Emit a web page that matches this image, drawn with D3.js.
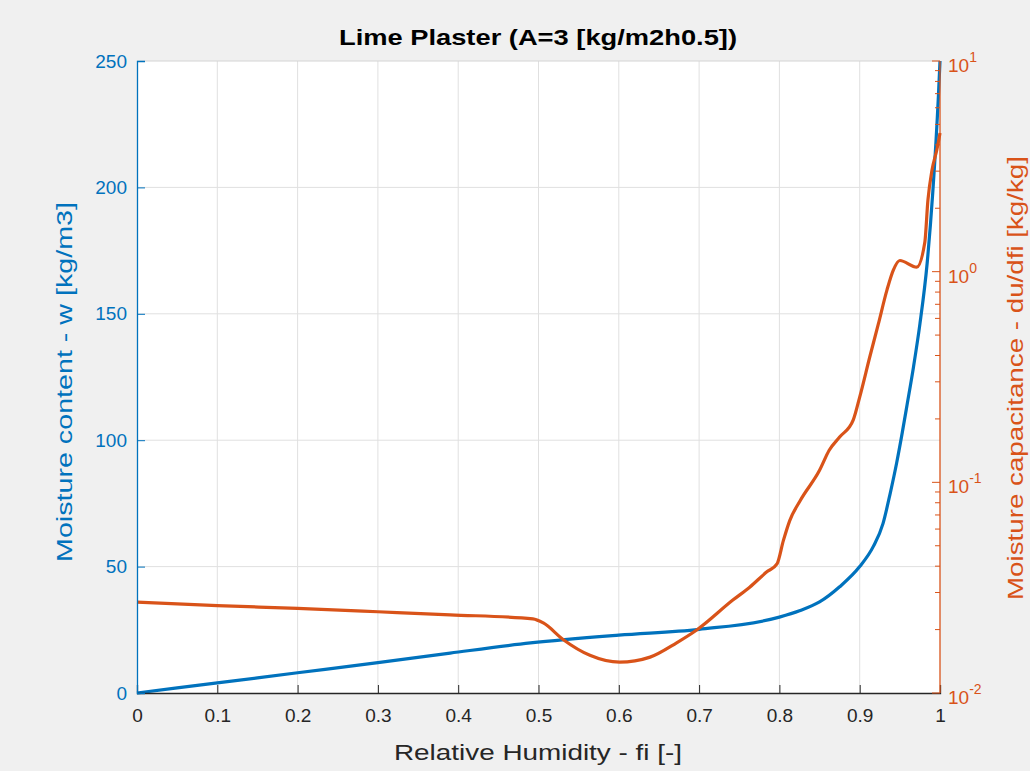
<!DOCTYPE html>
<html>
<head>
<meta charset="utf-8">
<script src="https://cdn.jsdelivr.net/npm/d3@7"></script>
<style>
  body { margin: 0; background: #f0f0f0; }
  svg { display: block; font-family: "Liberation Sans", Arial, sans-serif; }
</style>
</head>
<body>
<div id="chart"></div>
<script>
// moisture content w [kg/m3] vs relative humidity
const wFi = [0, 0.1, 0.2, 0.3, 0.39, 0.49, 0.6, 0.7, 0.8, 0.825, 0.85, 0.875, 0.9, 0.917, 0.929, 0.938, 0.946, 0.953, 0.959, 0.967, 0.975, 0.984, 0.991, 0.998, 1];
const wVal = [0, 4, 8, 12, 15.8, 19.8, 22.9, 25.2, 30, 32.5, 36, 42, 50, 58, 67, 79, 91, 103, 114, 129, 146, 170, 198, 236, 250];

// moisture capacitance du/dfi [kg/kg] (log axis)
const cFi = [0, 0.1, 0.2, 0.3, 0.39, 0.493, 0.506, 0.531, 0.564, 0.601, 0.639, 0.672, 0.697, 0.742, 0.763, 0.784, 0.797, 0.805, 0.813, 0.826, 0.85, 0.862, 0.875, 0.892, 0.9, 0.913, 0.923, 0.934, 0.942, 0.95, 0.971, 0.981, 0.985, 0.99, 0.996, 1];
const cVal = [0.027, 0.026, 0.0252, 0.0243, 0.0235, 0.0225, 0.0215, 0.0179, 0.0151, 0.014, 0.0148, 0.0173, 0.0199, 0.0276, 0.0318, 0.0375, 0.041, 0.053, 0.066, 0.082, 0.114, 0.142, 0.164, 0.198, 0.254, 0.4, 0.56, 0.82, 1.02, 1.13, 1.05, 1.37, 2.19, 3.03, 3.78, 4.55];

const xTicks = [0, 0.1, 0.2, 0.3, 0.4, 0.5, 0.6, 0.7, 0.8, 0.9, 1];
const yTicks = [0, 50, 100, 150, 200, 250];
const rTicks = [0.01, 0.1, 1, 10];
const rExp = ["-2", "-1", "0", "1"];

const W = 1030, H = 771;
const pL = 137, pR = 940, pT = 61, pB = 693;
const BLUE = "#0072BD", ORANGE = "#D95319", TXT = "#262626";

const svg = d3.select("#chart").append("svg").attr("width", W).attr("height", H);
svg.append("rect").attr("width", W).attr("height", H).attr("fill", "#f0f0f0");

const x = d3.scaleLinear().domain([0, 1]).range([pL, pR]);
const y = d3.scaleLinear().domain([0, 250]).range([pB, pT]);
const yr = d3.scaleLog().domain([0.01, 10]).range([pB, pT]);

svg.append("rect").attr("x", pL).attr("y", pT)
  .attr("width", pR - pL).attr("height", pB - pT).attr("fill", "#fff");

// grid
const grid = svg.append("g").attr("stroke", "#e0e0e0").attr("stroke-width", 1);
grid.selectAll(".gx").data(xTicks.slice(1, -1)).join("line")
  .attr("x1", d => x(d)).attr("x2", d => x(d)).attr("y1", pT).attr("y2", pB);
grid.selectAll(".gy").data(yTicks.slice(1, -1)).join("line")
  .attr("x1", pL).attr("x2", pR).attr("y1", d => y(d)).attr("y2", d => y(d));

// top border
svg.append("line").attr("x1", pL).attr("x2", pR).attr("y1", pT).attr("y2", pT)
  .attr("stroke", "#d4d4d4");

// curves
const lineW = d3.line().x((d, i) => x(wFi[i])).y(d => y(d)).curve(d3.curveMonotoneX);
const lineC = d3.line().x((d, i) => x(cFi[i])).y(d => yr(d)).curve(d3.curveMonotoneX);

svg.append("path").datum(wVal).attr("d", lineW)
  .attr("fill", "none").attr("stroke", BLUE).attr("stroke-width", 3.2);
svg.append("path").datum(cVal).attr("d", lineC)
  .attr("fill", "none").attr("stroke", ORANGE).attr("stroke-width", 3.2);

// bottom axis
const xAxis = svg.append("g").attr("transform", `translate(0,${pB})`)
  .call(d3.axisBottom(x).tickValues(xTicks).tickSize(-8).tickPadding(16)
    .tickFormat(d => d === 0 || d === 1 ? d3.format("d")(d) : d3.format(".1f")(d)));
xAxis.select(".domain").attr("stroke", TXT).attr("stroke-width", 1.3);
xAxis.selectAll(".tick line").attr("stroke", TXT);
xAxis.selectAll("text").attr("fill", TXT).attr("font-size", 19);

// left axis
const yAxis = svg.append("g").attr("transform", `translate(${pL},0)`)
  .call(d3.axisLeft(y).tickValues(yTicks).tickSize(-8).tickPadding(10));
yAxis.select(".domain").attr("stroke", BLUE).attr("stroke-width", 1.3);
yAxis.selectAll(".tick line").attr("stroke", BLUE);
yAxis.selectAll("text").attr("fill", BLUE).attr("font-size", 19);

// right log axis
const minor = [];
for (let e = -2; e < 1; e++) for (let k = 2; k < 10; k++) minor.push(k * Math.pow(10, e));
const rAxis = svg.append("g").attr("transform", `translate(${pR},0)`);
rAxis.append("line").attr("x1", 0).attr("x2", 0).attr("y1", pT).attr("y2", pB)
  .attr("stroke", ORANGE).attr("stroke-width", 1.3);
rAxis.selectAll(".minor").data(minor).join("line")
  .attr("x1", 0).attr("x2", -5).attr("y1", d => yr(d)).attr("y2", d => yr(d))
  .attr("stroke", ORANGE);
rAxis.selectAll(".major").data(rTicks).join("line")
  .attr("x1", 0).attr("x2", -8).attr("y1", d => yr(d)).attr("y2", d => yr(d))
  .attr("stroke", ORANGE);
const rl = rAxis.selectAll(".lab").data(rTicks).join("text")
  .attr("x", 8).attr("y", d => yr(d) + 11)
  .attr("fill", ORANGE).attr("font-size", 19);
rl.append("tspan").text("10");
rl.append("tspan").attr("dy", -10).attr("font-size", 14).text((d, i) => rExp[i]);

// labels
svg.append("text").attr("x", 538).attr("y", 45).attr("text-anchor", "middle")
  .attr("font-size", 22).attr("font-weight", "bold").attr("fill", "#000")
  .attr("textLength", 398).attr("lengthAdjust", "spacingAndGlyphs")
  .text("Lime Plaster (A=3 [kg/m2h0.5])");
svg.append("text").attr("x", 538).attr("y", 760).attr("text-anchor", "middle")
  .attr("font-size", 22).attr("fill", TXT)
  .attr("textLength", 288).attr("lengthAdjust", "spacingAndGlyphs")
  .text("Relative Humidity - fi [-]");
svg.append("text").attr("transform", `translate(72,382) rotate(-90)`)
  .attr("text-anchor", "middle").attr("font-size", 22).attr("fill", BLUE)
  .attr("textLength", 360).attr("lengthAdjust", "spacingAndGlyphs")
  .text("Moisture content - w [kg/m3]");
svg.append("text").attr("transform", `translate(1023,378) rotate(-90)`)
  .attr("text-anchor", "middle").attr("font-size", 22).attr("fill", ORANGE)
  .attr("textLength", 444).attr("lengthAdjust", "spacingAndGlyphs")
  .text("Moisture capacitance - du/dfi [kg/kg]");
</script>
</body>
</html>
